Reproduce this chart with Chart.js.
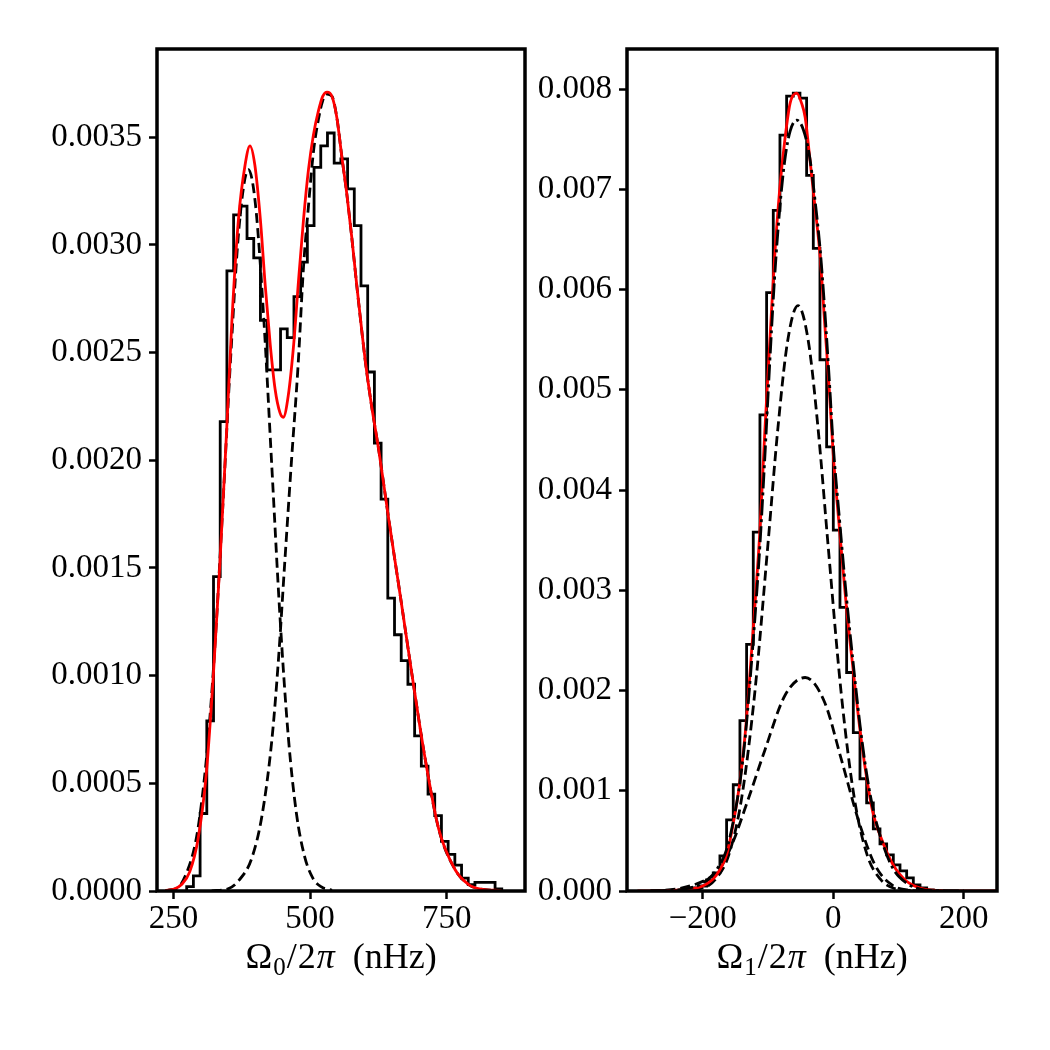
<!DOCTYPE html>
<html>
<head>
<meta charset="utf-8">
<script src="https://cdn.jsdelivr.net/npm/chart.js@4.4.0/dist/chart.umd.min.js"></script>
<style>
  html, body { margin: 0; padding: 0; background: #fff; }
  #wrap { position: relative; width: 1050px; height: 1050px; }
  canvas { position: absolute; top: 0; }
</style>
</head>
<body>
<div id="wrap">
  <canvas id="left" width="530" height="1050" style="left:0"></canvas>
  <canvas id="right" width="520" height="1050" style="left:530px"></canvas>
</div>
<script>
const serif = "'Liberation Serif', 'Times New Roman', serif"

// Omega_0 panel
const omega0BinStart = 274.3
const omega0BinWidth = 12.26
const omega0Density = [
  0.00002, 0.00007, 0.00036, 0.00079, 0.00146, 0.00218, 0.00288, 0.00314,
  0.00318, 0.00303, 0.00294, 0.00265, 0.00242, 0.00242, 0.00261, 0.00257,
  0.00276, 0.00292, 0.00309, 0.00336, 0.00346, 0.00352, 0.00338, 0.0034,
  0.00326, 0.00309, 0.00281, 0.00241, 0.00208, 0.00182, 0.00136, 0.00119,
  0.00107, 0.00096, 0.00072, 0.00058, 0.00045, 0.00035, 0.00023, 0.00017,
  0.00012, 0.00006, 0.00003, 0.00004, 0.00004, 0.00004, 0.00001,
]
const omega0FitX = [
  235, 250, 265, 280, 295, 310, 323, 335, 347, 357, 369, 381, 390, 399, 409,
  418, 427, 436, 445, 451, 460, 470, 479, 488, 497, 506, 515, 523, 531, 540,
  549, 558, 567, 576, 585, 595, 601, 612, 626, 643, 665, 686, 710, 735, 765,
  790, 810, 850,
]
const omega0FitY = [
  0.000002, 0.000008, 0.00003, 0.00009, 0.00024, 0.00054, 0.001, 0.00152,
  0.00212, 0.00265, 0.00312, 0.00337, 0.00346, 0.00337, 0.00312, 0.00281,
  0.00254, 0.00233, 0.00222, 0.0022, 0.0023, 0.00254, 0.00284, 0.00312,
  0.00335, 0.00351, 0.00362, 0.00369, 0.00371, 0.00369, 0.00359, 0.00341,
  0.00324, 0.00304, 0.00282, 0.00259, 0.00246, 0.00226, 0.00204, 0.00174,
  0.00137, 0.00101, 0.00062, 0.00029, 0.0001, 0.00003, 0.00001, 0.000002,
]
const omega0LowX = [
  240, 260, 275, 290, 300, 312, 325, 340, 355, 370, 387, 400, 415, 430, 445,
  460, 475, 490, 505, 520, 540,
]
const omega0LowY = [
  0.000003, 0.00002, 0.00009, 0.00022, 0.00038, 0.00066, 0.0011, 0.00177,
  0.00249, 0.00308, 0.00335, 0.00319, 0.00267, 0.00197, 0.00127, 0.00072,
  0.00036, 0.00016, 0.00006, 0.00002, 0.000003,
]
const omega0HighX = [
  320, 350, 370, 393, 412, 430, 442, 454, 466, 478, 488, 497, 506, 515, 523,
  531, 540, 549, 558, 567, 576, 585, 595, 601, 612, 626, 643, 665, 686, 710,
  735, 765, 790, 810, 850,
]
const omega0HighY = [
  0.000001, 0.00001, 0.00005, 0.00015, 0.00035, 0.0007, 0.00107, 0.00154,
  0.002, 0.00244, 0.0029, 0.00318, 0.00343, 0.00358, 0.00367, 0.0037,
  0.00369, 0.00359, 0.00341, 0.00324, 0.00304, 0.00282, 0.00259, 0.00246,
  0.00226, 0.00204, 0.00174, 0.00137, 0.00101, 0.00062, 0.00029, 0.0001,
  0.00003, 0.00001, 0.000002,
]
const omega0XTicks = [250, 500, 750]
const omega0YTicks = [0, 0.0005, 0.001, 0.0015, 0.002, 0.0025, 0.003, 0.0035]

// Omega_1 panel
const omega1BinStart = -224.7
const omega1BinWidth = 10.22
const omega1Density = [
  0.00001, 0.00003, 0.00005, 0.00011, 0.00018, 0.00035, 0.00071, 0.00106,
  0.0017, 0.00246, 0.00358, 0.00475, 0.00597, 0.00679, 0.00754, 0.00793,
  0.00796, 0.00791, 0.00714, 0.00641, 0.0053, 0.00443, 0.0036, 0.00283,
  0.00218, 0.00158, 0.00112, 0.00088, 0.00062, 0.00047, 0.00036, 0.00026,
  0.0002, 0.00013, 0.00006, 0.00003, 0.00001,
]
const omega1FitX = [
  -300, -260, -240, -220, -200, -180, -163, -153, -143, -135, -128, -120,
  -112, -105, -97, -90, -82, -74, -66, -56, -48, -43, -36, -28, -20, -13, -6,
  0, 10, 20, 31, 41, 51, 61, 77, 92, 112, 133, 160, 200, 250,
]
const omega1FitY = [
  0, 0.000003, 0.000008, 0.00002, 0.00005, 0.00015, 0.00037, 0.00068,
  0.00109, 0.00156, 0.00213, 0.00285, 0.00363, 0.00456, 0.0055, 0.0063,
  0.007, 0.0075, 0.00786, 0.00796, 0.00785, 0.00772, 0.00732, 0.00683,
  0.00633, 0.00566, 0.005, 0.00436, 0.00358, 0.00285, 0.00218, 0.00161,
  0.00114, 0.00078, 0.00047, 0.00026, 0.0001, 0.00003, 0.000005, 0, 0,
]
const omega1SumX = [
  -280, -240, -220, -200, -180, -163, -153, -143, -135, -128, -120, -112,
  -105, -97, -90, -82, -74, -66, -56, -46, -36, -28, -20, -13, -6, 0, 10, 20,
  31, 41, 51, 61, 77, 92, 112, 133, 160, 200,
]
const omega1SumY = [
  0, 0.00001, 0.00003, 0.00008, 0.0002, 0.00042, 0.0007, 0.00108, 0.00152,
  0.00205, 0.00272, 0.00348, 0.0043, 0.0053, 0.0061, 0.0068, 0.0073,
  0.00758, 0.00769, 0.0076, 0.00732, 0.0069, 0.0064, 0.0058, 0.0051,
  0.00445, 0.00368, 0.00295, 0.00225, 0.00166, 0.00118, 0.00082, 0.00045,
  0.00022, 0.00008, 0.00002, 0.000003, 0,
]
const omega1NarrowX = [
  -260, -200, -180, -160, -140, -120, -100, -85, -70, -54, -38, -23, -8, 12,
  32, 52, 72, 92, 130,
]
const omega1NarrowY = [
  0, 0.00003, 0.00012, 0.00036, 0.00094, 0.00199, 0.00346, 0.0046, 0.00548,
  0.00584, 0.00548, 0.0046, 0.00346, 0.00199, 0.00094, 0.00036, 0.00012,
  0.00003, 0,
]
const omega1WideX = [
  -280, -240, -210, -190, -176, -156, -130, -105, -74, -43, -13, 13, 38, 64,
  90, 115, 140,
]
const omega1WideY = [
  0, 0.00002, 0.00007, 0.00013, 0.0002, 0.00045, 0.00092, 0.0014, 0.00195,
  0.00213, 0.00188, 0.0013, 0.00072, 0.00026, 0.00006, 0.00001, 0,
]
const omega1XTicks = [-200, 0, 200]
const omega1YTicks = [0, 0.001, 0.002, 0.003, 0.004, 0.005, 0.006, 0.007, 0.008]

function zip(xs, ys) {
  return xs.map((x, i) => ({ x: x, y: ys[i] }))
}

// step outline like histtype='step'; used with stepped: 'before'
function histOutline(start, width, values) {
  const pts = [{ x: start, y: 0 }, { x: start, y: values[0] }]
  for (let i = 1; i < values.length; i++) {
    pts.push({ x: start + i * width, y: values[i] })
  }
  pts.push({ x: start + values.length * width, y: 0 })
  return pts
}

function curve(points, color, dash, order) {
  return {
    data: points,
    showLine: true,
    borderColor: color,
    borderWidth: 2.8,
    borderDash: dash,
    pointRadius: 0,
    cubicInterpolationMode: 'monotone',
    order: order,
  }
}

const frame = {
  id: 'frame',
  afterDatasetsDraw(chart) {
    const a = chart.chartArea
    const ctx = chart.ctx
    ctx.save()
    ctx.lineWidth = 3.5
    ctx.strokeStyle = '#000'
    ctx.strokeRect(a.left, a.top, a.right - a.left, a.bottom - a.top)
    ctx.restore()
  },
}

// x label with a subscript: Omega_n / 2 pi (nHz)
const axisLabel = {
  id: 'axisLabel',
  afterDraw(chart, args, opts) {
    const ctx = chart.ctx
    const a = chart.chartArea
    const parts = [
      { t: 'Ω', f: '36px ' + serif, dy: 0, gap: 0 },
      { t: opts.sub, f: '25px ' + serif, dy: 7, gap: 1 },
      { t: '/', f: '36px ' + serif, dy: 0, gap: 1 },
      { t: '2', f: '36px ' + serif, dy: 0, gap: 1 },
      { t: 'π', f: 'italic 36px ' + serif, dy: 0, gap: 1 },
      { t: '(nHz)', f: '36px ' + serif, dy: 0, gap: 18 },
    ]
    ctx.save()
    ctx.fillStyle = '#000'
    ctx.textBaseline = 'alphabetic'
    ctx.textAlign = 'left'
    let total = 0
    parts.forEach((p) => {
      ctx.font = p.f
      p.w = ctx.measureText(p.t).width
      total += p.w + p.gap
    })
    let x = (a.left + a.right) / 2 - total / 2
    parts.forEach((p) => {
      ctx.font = p.f
      x += p.gap
      ctx.fillText(p.t, x, opts.baseline + p.dy)
      x += p.w
    })
    ctx.restore()
  },
}

function createPanel(ctx, datasets, xMin, xMax, yMax, xTicks, yTicks, yDigits, yWidth, padRight, sub) {
  return new Chart(ctx, {
    type: 'scatter',
    data: { datasets: datasets },
    plugins: [frame, axisLabel],
    options: {
      responsive: false,
      animation: false,
      devicePixelRatio: 1,
      layout: { padding: { top: 49, right: padRight, left: 0, bottom: 0 } },
      plugins: {
        legend: { display: false },
        tooltip: { enabled: false },
        axisLabel: { sub: sub, baseline: 968 },
      },
      scales: {
        x: {
          type: 'linear',
          min: xMin,
          max: xMax,
          afterBuildTicks: (s) => {
            s.ticks = xTicks.map((v) => ({ value: v }))
          },
          afterFit: (s) => {
            s.height = 159
          },
          ticks: {
            color: '#000',
            font: { family: serif, size: 33 },
            padding: 1,
            maxRotation: 0,
            autoSkip: false,
            callback: (v) => (v < 0 ? '\u2212' + Math.abs(v) : '' + v),
          },
          grid: { drawOnChartArea: false, tickLength: 8, tickWidth: 2.5, color: '#000' },
          border: { display: false },
        },
        y: {
          type: 'linear',
          min: 0,
          max: yMax,
          afterBuildTicks: (s) => {
            s.ticks = yTicks.map((v) => ({ value: v }))
          },
          afterFit: (s) => {
            s.width = yWidth
          },
          ticks: {
            color: '#000',
            font: { family: serif, size: 33 },
            padding: 7,
            callback: (v) => v.toFixed(yDigits),
          },
          grid: { drawOnChartArea: false, tickLength: 8, tickWidth: 2.5, color: '#000' },
          border: { display: false },
        },
      },
    },
  })
}

const leftSets = [
  {
    data: histOutline(omega0BinStart, omega0BinWidth, omega0Density),
    showLine: true,
    stepped: 'before',
    borderColor: '#000',
    borderWidth: 2.8,
    pointRadius: 0,
    order: 5,
  },
  curve(zip(omega0LowX, omega0LowY), '#000', [10, 5], 4),
  curve(zip(omega0HighX, omega0HighY), '#000', [10, 5], 3),
  curve(zip(omega0FitX, omega0FitY), '#ff0000', [], 1),
]

const rightSets = [
  {
    data: histOutline(omega1BinStart, omega1BinWidth, omega1Density),
    showLine: true,
    stepped: 'before',
    borderColor: '#000',
    borderWidth: 2.8,
    pointRadius: 0,
    order: 6,
  },
  curve(zip(omega1NarrowX, omega1NarrowY), '#000', [10, 5], 5),
  curve(zip(omega1WideX, omega1WideY), '#000', [10, 5], 4),
  curve(zip(omega1FitX, omega1FitY), '#ff0000', [], 2),
  curve(zip(omega1SumX, omega1SumY), '#000', [16, 4, 3, 4], 1),
]

createPanel(document.getElementById('left'), leftSets, 220, 893, 0.00391,
  omega0XTicks, omega0YTicks, 4, 157, 5, '0')
createPanel(document.getElementById('right'), rightSets, -316, 251, 0.0084,
  omega1XTicks, omega1YTicks, 3, 97, 53, '1')
</script>
</body>
</html>
